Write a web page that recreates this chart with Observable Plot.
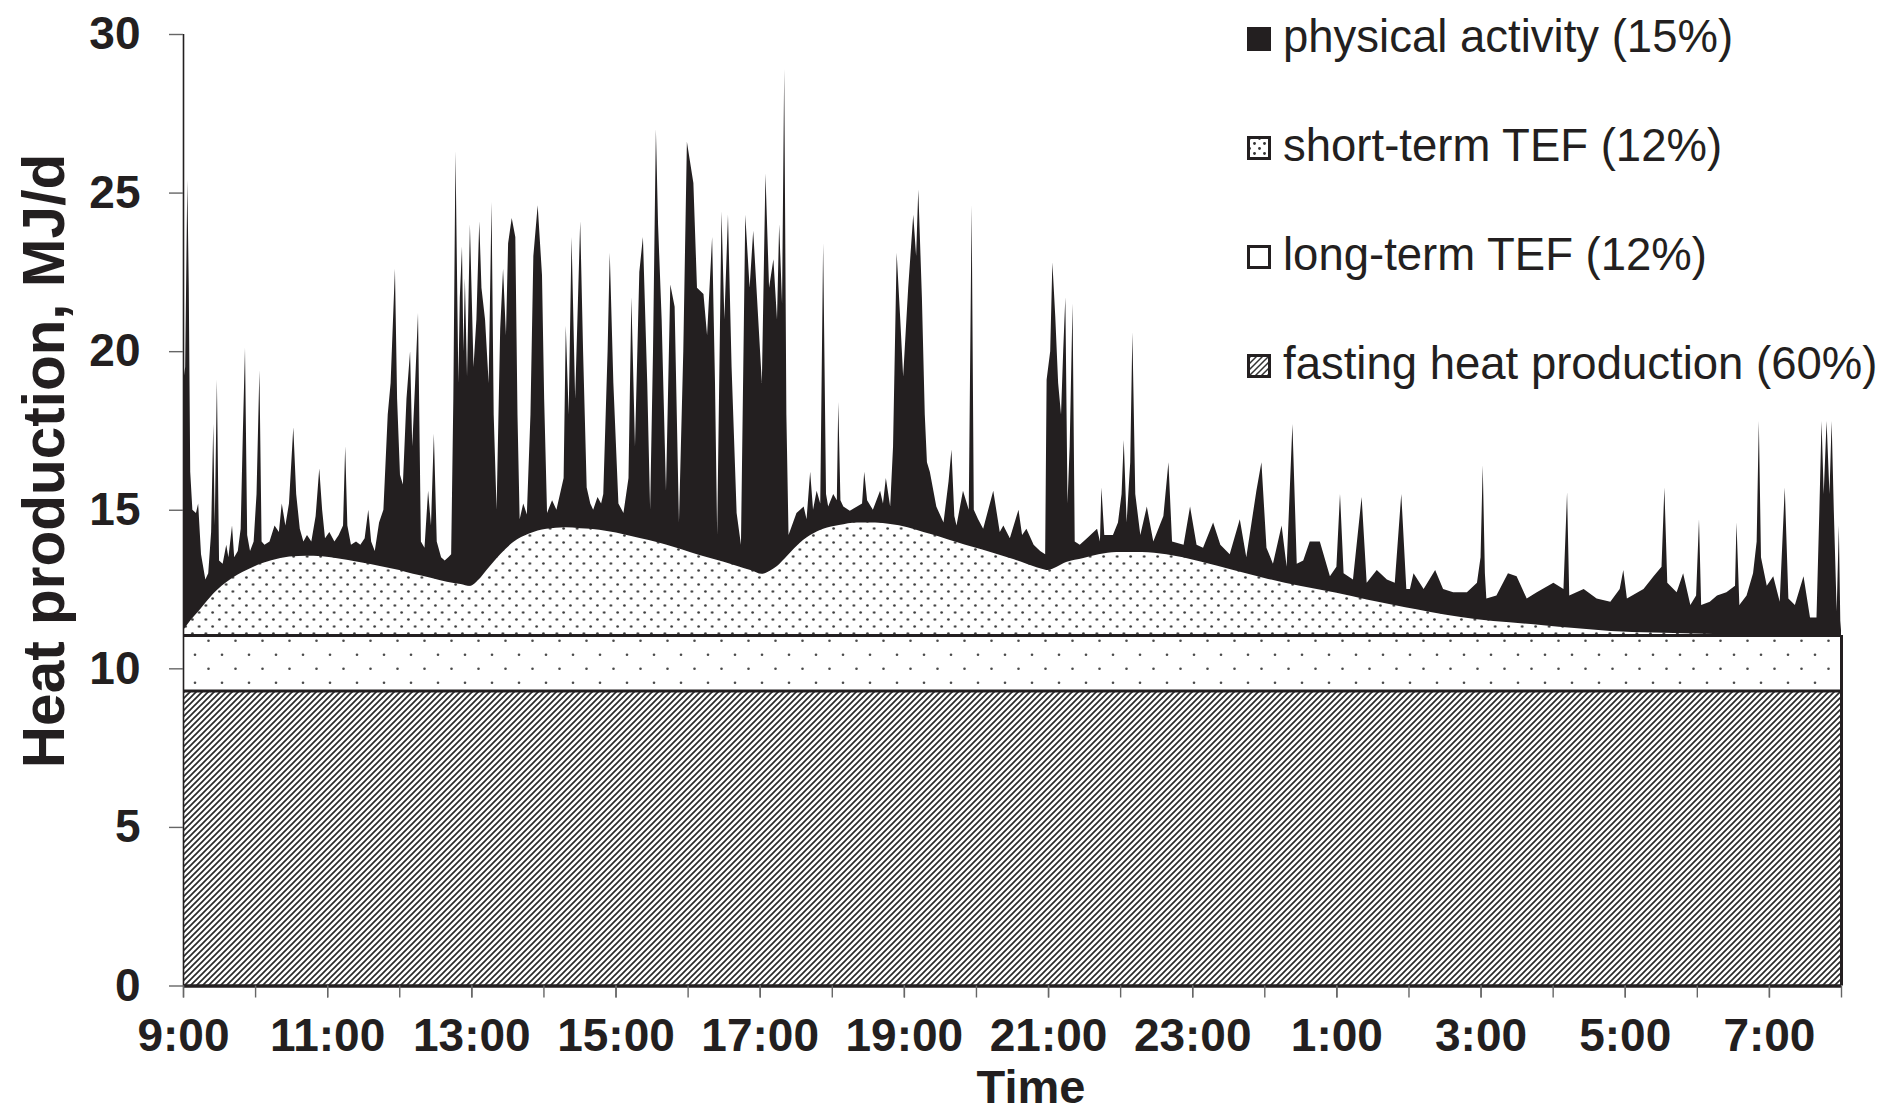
<!DOCTYPE html>
<html>
<head>
<meta charset="utf-8">
<script src="https://cdn.jsdelivr.net/npm/d3@7"></script>
<script src="https://cdn.jsdelivr.net/npm/@observablehq/plot@0.6"></script>
<style>
  body { margin: 0; background: #fff; }
  #wrap { position: relative; width: 1889px; height: 1114px; font-family: "Liberation Sans", Arial, sans-serif; color: #231f20; overflow: hidden; }
  #wrap svg.chart { position: absolute; left: 0; top: 0; }
  .ytitle { position: absolute; left: 44px; top: 461px; transform: translate(-50%, -50%) rotate(-90deg); font-weight: bold; font-size: 58.5px; line-height: 1; white-space: nowrap; }
  .xtitle { position: absolute; left: 1031px; top: 1063px; transform: translateX(-50%); font-weight: bold; font-size: 47px; line-height: 1; white-space: nowrap; }
  .leg-text { position: absolute; left: 1283px; font-size: 45.5px; line-height: 1; white-space: nowrap; }
  .leg-sw { position: absolute; left: 1247px; width: 24px; height: 24px; }
</style>
</head>
<body>
<div id="wrap"></div>
<script>
// ---------------- data (hours after 9:00, MJ/d) ----------------
const fastingLevel = 9.3;     // top of fasting heat production
const longTermLevel = 11.05;  // top of long-term TEF band

// short-term TEF upper boundary (cumulative value)
const stefHours  = [0, 0.05, 0.25, 0.42, 0.65, 0.88, 1.1, 1.35, 1.6, 1.81, 2.05, 2.27, 2.5, 2.73, 3.0, 3.19, 3.45, 3.66, 3.85, 3.98, 4.1, 4.21, 4.4, 4.58, 4.8, 5.04, 5.3, 5.51, 5.65, 5.9, 6.11, 6.35, 6.57, 6.8, 7.03, 7.25, 7.5, 7.7, 7.87, 8.03, 8.14, 8.24, 8.38, 8.51, 8.7, 8.88, 9.1, 9.35, 9.6, 9.81, 10.05, 10.27, 10.5, 10.73, 10.95, 11.2, 11.47, 11.7, 11.9, 12.0, 12.12, 12.25, 12.49, 12.7, 12.95, 13.3, 13.64, 14.1, 14.57, 15.0, 15.49, 16.0, 16.42, 16.8, 17.11, 17.5, 17.95, 18.4, 18.87, 19.3, 19.8, 20.4, 20.95, 21.5, 22, 23];
const stefValues = [11.2, 11.36, 11.9, 12.36, 12.8, 13.1, 13.32, 13.48, 13.54, 13.55, 13.5, 13.42, 13.33, 13.23, 13.1, 12.98, 12.85, 12.73, 12.66, 12.6, 12.8, 13.1, 13.6, 13.98, 14.25, 14.4, 14.45, 14.42, 14.4, 14.32, 14.23, 14.1, 13.98, 13.83, 13.67, 13.52, 13.36, 13.22, 13.1, 12.98, 13.08, 13.23, 13.55, 13.86, 14.2, 14.4, 14.52, 14.6, 14.6, 14.55, 14.45, 14.3, 14.15, 13.98, 13.83, 13.67, 13.48, 13.3, 13.15, 13.1, 13.2, 13.35, 13.48, 13.6, 13.67, 13.67, 13.6, 13.38, 13.1, 12.85, 12.6, 12.38, 12.17, 12.0, 11.86, 11.7, 11.55, 11.45, 11.36, 11.27, 11.18, 11.13, 11.1, 11.07, 11.06, 11.05];

// total heat production incl. physical activity: [hour, MJ/d]
const activityTrace = [
  [0.00,19.0],[0.03,19.5],[0.06,25.4],[0.08,22.0],[0.10,16.2],[0.13,15.0],[0.18,14.9],[0.21,15.2],[0.25,13.6],[0.31,12.8],
  [0.35,13.0],[0.39,14.3],[0.42,17.7],[0.44,14.5],[0.47,19.1],[0.50,13.4],[0.55,13.3],[0.60,13.9],[0.63,13.5],[0.68,14.5],
  [0.71,13.5],[0.76,13.7],[0.80,14.4],[0.83,17.4],[0.86,20.1],[0.89,14.2],[0.93,13.7],[0.98,14.0],[1.02,15.5],[1.06,19.4],
  [1.09,14.0],[1.13,13.9],[1.20,14.0],[1.27,14.5],[1.33,14.3],[1.37,15.2],[1.42,14.5],[1.47,15.2],[1.53,17.6],[1.57,15.5],
  [1.62,14.4],[1.67,14.0],[1.72,14.2],[1.78,14.0],[1.84,14.8],[1.89,16.3],[1.93,15.0],[1.97,14.1],[2.03,14.3],[2.10,14.0],
  [2.16,14.2],[2.22,14.5],[2.25,17.0],[2.28,14.5],[2.33,13.9],[2.40,14.0],[2.46,13.9],[2.52,14.1],[2.57,15.0],[2.61,14.0],
  [2.66,13.7],[2.72,14.6],[2.78,15.0],[2.84,18.0],[2.88,19.0],[2.94,22.6],[2.97,18.5],[3.01,16.1],[3.05,15.8],[3.10,18.5],
  [3.15,20.0],[3.18,17.0],[3.22,19.0],[3.26,21.2],[3.30,14.0],[3.35,13.8],[3.40,15.6],[3.44,14.5],[3.48,17.4],[3.52,14.0],
  [3.58,13.5],[3.63,13.4],[3.68,13.5],[3.72,13.6],
  [3.75,18.5],[3.78,26.3],[3.82,19.0],[3.84,21.7],[3.87,23.3],[3.89,20.0],[3.91,22.3],[3.94,19.2],[3.98,24.0],[4.03,19.5],
  [4.07,21.0],[4.11,24.1],[4.14,22.0],[4.19,21.0],[4.24,19.0],[4.28,24.7],[4.31,18.0],[4.35,15.0],[4.40,20.7],[4.44,22.6],
  [4.48,20.5],[4.51,23.4],[4.56,24.2],[4.61,23.6],[4.64,18.0],[4.67,14.7],[4.72,15.2],[4.77,14.85],[4.82,18.0],[4.86,23.0],
  [4.92,24.6],[4.98,22.4],[5.01,18.5],[5.05,14.9],[5.12,15.3],[5.18,15.0],[5.24,15.6],[5.28,16.0],[5.31,20.8],[5.35,18.0],
  [5.39,23.6],[5.44,18.5],[5.51,24.1],[5.55,20.0],[5.60,15.7],[5.65,15.2],[5.69,15.0],[5.75,15.4],[5.80,15.2],[5.83,15.5],
  [5.89,20.0],[5.92,23.1],[5.97,19.0],[6.04,15.2],[6.11,14.9],[6.18,16.0],[6.22,21.7],[6.27,17.0],[6.33,22.5],[6.38,23.6],
  [6.44,19.0],[6.48,15.0],[6.52,20.0],[6.56,27.0],[6.59,24.0],[6.64,21.0],[6.70,15.6],[6.76,22.1],[6.82,21.4],[6.88,14.6],
  [6.94,20.0],[6.99,26.6],[7.08,25.3],[7.13,22.0],[7.22,21.8],[7.27,20.5],[7.34,23.6],[7.38,19.0],[7.41,14.2],[7.47,24.4],
  [7.51,21.0],[7.56,24.3],[7.61,19.5],[7.68,14.9],[7.74,13.9],[7.80,24.3],[7.86,22.0],[7.91,23.8],[7.98,21.0],[8.03,19.0],
  [8.08,25.6],[8.13,22.0],[8.19,22.9],[8.24,21.0],[8.27,24.0],[8.31,21.5],[8.34,28.9],[8.37,18.0],[8.40,14.2],
  [8.51,14.9],[8.61,15.1],[8.65,14.7],[8.70,16.2],[8.74,15.0],[8.79,15.6],[8.84,15.2],[8.88,23.4],[8.92,15.5],[8.95,15.1],
  [9.02,15.5],[9.07,15.3],[9.09,18.4],[9.12,15.3],[9.16,15.1],[9.25,14.97],[9.35,15.1],[9.42,15.2],[9.45,16.2],[9.49,15.3],
  [9.57,15.0],[9.67,15.6],[9.71,15.2],[9.75,16.0],[9.81,15.1],[9.85,17.0],[9.90,23.1],[9.95,21.0],[9.99,19.2],[10.06,22.0],
  [10.13,24.3],[10.17,23.0],[10.20,25.1],[10.25,21.7],[10.29,18.0],[10.32,16.5],[10.36,16.2],[10.45,15.1],[10.55,14.6],[10.62,15.9],
  [10.66,16.9],[10.70,14.8],[10.73,14.5],[10.82,15.6],[10.90,15.0],[10.94,24.6],[10.97,15.0],[11.03,14.7],[11.10,14.4],[11.24,15.6],
  [11.33,14.3],[11.38,14.5],[11.47,14.1],[11.59,15.0],[11.64,14.2],[11.70,14.4],[11.80,13.9],[11.89,13.7],[11.96,13.6],[11.98,19.1],
  [12.03,20.0],[12.06,22.8],[12.10,21.1],[12.14,19.0],[12.18,18.0],[12.21,20.0],[12.24,21.7],[12.27,15.2],[12.30,17.0],[12.34,21.5],
  [12.37,14.0],[12.44,13.9],[12.54,14.1],[12.68,14.4],[12.72,14.0],[12.74,15.7],[12.78,14.2],[12.90,14.2],[12.97,14.6],[13.02,15.5],
  [13.05,17.2],[13.09,14.6],[13.14,16.5],[13.17,20.6],[13.21,15.5],[13.28,14.2],[13.37,15.1],[13.46,14.0],[13.60,14.8],[13.67,16.5],
  [13.72,14.0],[13.88,13.9],[13.97,15.1],[14.06,13.9],[14.15,13.8],[14.29,14.6],[14.39,13.9],[14.52,13.6],[14.66,14.7],[14.75,13.5],
  [14.89,15.6],[14.96,16.5],[15.03,13.8],[15.12,13.3],[15.24,14.5],[15.31,13.2],[15.39,17.7],[15.45,13.3],[15.54,13.4],[15.63,14.0],
  [15.77,14.0],[15.91,12.9],[16.00,13.2],[16.05,15.5],[16.10,13.0],[16.23,12.8],[16.35,15.4],[16.42,12.7],[16.56,13.1],[16.70,12.8],
  [16.81,12.7],[16.90,15.5],[16.97,12.5],[17.02,12.5],[17.07,13.0],[17.21,12.5],[17.37,13.1],[17.48,12.5],[17.62,12.4],[17.81,12.4],
  [17.95,12.7],[18.00,13.5],[18.03,16.4],[18.06,13.0],[18.08,12.2],[18.22,12.3],[18.38,13.0],[18.50,12.9],[18.64,12.2],[18.78,12.4],
  [19.01,12.7],[19.15,12.5],[19.20,15.55],[19.23,12.3],[19.43,12.5],[19.61,12.2],[19.80,12.1],[19.93,12.5],[19.98,13.1],[20.03,12.2],
  [20.26,12.5],[20.40,12.9],[20.51,13.2],[20.55,15.7],[20.59,12.7],[20.72,12.4],[20.81,13.0],[20.91,12.0],[20.99,12.3],[21.03,14.7],
  [21.06,12.0],[21.18,12.1],[21.28,12.3],[21.41,12.4],[21.53,12.6],[21.55,14.6],[21.59,12.0],[21.69,12.3],[21.78,13.0],[21.83,14.0],
  [21.86,17.8],[21.89,13.5],[21.97,12.6],[22.06,12.9],[22.15,12.1],[22.22,15.7],[22.27,12.2],[22.36,12.0],[22.48,12.9],[22.57,11.6],
  [22.66,11.6],[22.70,15.0],[22.73,17.8],[22.76,15.5],[22.80,17.8],[22.84,15.5],[22.87,17.8],[22.90,15.0],[22.94,11.8],[22.97,14.5],
  [22.99,11.5],[23.00,11.2]
];

// axes
const yTicks = [0, 5, 10, 15, 20, 25, 30];
const hourTicks = [0,1,2,3,4,5,6,7,8,9,10,11,12,13,14,15,16,17,18,19,20,21,22,23];
const labelHours = [0, 2, 4, 6, 8, 10, 12, 14, 16, 18, 20, 22];
const timeLabels = ["9:00","11:00","13:00","15:00","17:00","19:00","21:00","23:00","1:00","3:00","5:00","7:00"];
const xTitle = "Time";
const yTitle = "Heat production, MJ/d";

// legend
const legendLabels = ["physical activity (15%)", "short-term TEF (12%)", "long-term TEF (12%)", "fasting heat production (60%)"];
const legendFills = ["#231f20", "url(#swStef)", "#ffffff", "url(#swHatch)"];

// ---------------- build ----------------
const ink = "#231f20";
const stef = stefHours.map((t, i) => ({t, v: stefValues[i]}));
const total = activityTrace.map(([t, v]) => ({t, v}));
const span = [{t: 0}, {t: 23}];

const chart = Plot.plot({
  width: 1889,
  height: 1114,
  marginTop: 34,
  marginLeft: 183,
  marginRight: 48,
  marginBottom: 128.5,
  style: {fontFamily: '"Liberation Sans", Arial, sans-serif', fontSize: "46px", fontWeight: "bold", color: ink, background: "transparent", overflow: "visible"},
  x: {domain: [0, 23]},
  y: {domain: [0, 30]},
  marks: [
    Plot.areaY(total, {x: "t", y1: longTermLevel, y2: "v", fill: ink}),
    Plot.areaY(stef, {x: "t", y1: longTermLevel, y2: "v", fill: "url(#stefDots)", curve: "monotone-x"}),
    Plot.areaY(span, {x: "t", y1: fastingLevel, y2: longTermLevel, fill: "url(#ltDots)"}),
    Plot.areaY(span, {x: "t", y1: 0, y2: fastingLevel, fill: "url(#hatch)"}),
    Plot.ruleY([fastingLevel, longTermLevel], {stroke: ink, strokeWidth: 3}),
    Plot.ruleX([23], {y1: 0, y2: longTermLevel, stroke: ink, strokeWidth: 3}),
    Plot.ruleX([0], {y1: 0, y2: 30, stroke: ink, strokeWidth: 1.6}),
    Plot.ruleY([0], {stroke: ink, strokeWidth: 3.5}),
    Plot.axisY({ticks: yTicks, tickSize: 14, tickPadding: 29, label: null, stroke: "#666", strokeWidth: 1.4, fill: ink}),
    Plot.axisX({ticks: hourTicks, tickSize: 12, tickFormat: () => "", label: null, stroke: "#666", strokeWidth: 1.4}),
    Plot.axisX({ticks: labelHours, tickSize: 12, tickPadding: 20, tickFormat: d => timeLabels[labelHours.indexOf(d)], label: null, stroke: "#666", strokeWidth: 1.4, fill: ink})
  ]
});
chart.classList.add("chart");

// patterns
const defs = d3.select(chart).insert("defs", ":first-child");
const pStef = defs.append("pattern").attr("id", "stefDots").attr("patternUnits", "userSpaceOnUse")
  .attr("width", 13.5).attr("height", 14);
pStef.append("rect").attr("width", 13.5).attr("height", 14).attr("fill", "#fff");
pStef.append("circle").attr("cx", 3.4).attr("cy", 3.5).attr("r", 1.35).attr("fill", "#3a3a3a");
pStef.append("circle").attr("cx", 10.15).attr("cy", 10.5).attr("r", 1.35).attr("fill", "#3a3a3a");

const pLt = defs.append("pattern").attr("id", "ltDots").attr("patternUnits", "userSpaceOnUse")
  .attr("width", 27).attr("height", 28);
pLt.append("rect").attr("width", 27).attr("height", 28).attr("fill", "#fff");
pLt.append("circle").attr("cx", 6).attr("cy", 10.7).attr("r", 1.3).attr("fill", "#4a4a4a");
pLt.append("circle").attr("cx", 19.5).attr("cy", 24.7).attr("r", 1.3).attr("fill", "#4a4a4a");

const pH = defs.append("pattern").attr("id", "hatch").attr("patternUnits", "userSpaceOnUse")
  .attr("width", 6).attr("height", 6);
pH.append("rect").attr("width", 6).attr("height", 6).attr("fill", "#fff");
pH.append("path").attr("d", "M0,6L6,0M-1.5,1.5L1.5,-1.5M4.5,7.5L7.5,4.5")
  .attr("stroke", "#2a2a2a").attr("stroke-width", 1.7);

const wrap = document.getElementById("wrap");
wrap.appendChild(chart);

// axis titles
const yt = document.createElement("div"); yt.className = "ytitle"; yt.textContent = yTitle; wrap.appendChild(yt);
const xt = document.createElement("div"); xt.className = "xtitle"; xt.textContent = xTitle; wrap.appendChild(xt);

// legend
const baselines = [52, 161, 270, 379];
legendLabels.forEach((label, i) => {
  const cy = baselines[i] - 13;
  const sw = document.createElementNS("http://www.w3.org/2000/svg", "svg");
  sw.setAttribute("class", "leg-sw");
  sw.setAttribute("width", 24); sw.setAttribute("height", 24);
  sw.style.top = (cy - 12) + "px";
  const s = d3.select(sw);
  const d = s.append("defs");
  if (i === 1) {
    const p = d.append("pattern").attr("id", "swStef").attr("patternUnits", "userSpaceOnUse").attr("width", 10).attr("height", 10);
    p.append("rect").attr("width", 10).attr("height", 10).attr("fill", "#fff");
    p.append("circle").attr("cx", 2.5).attr("cy", 2.5).attr("r", 1.4).attr("fill", "#333");
    p.append("circle").attr("cx", 7.5).attr("cy", 7.5).attr("r", 1.4).attr("fill", "#333");
  }
  if (i === 3) {
    const p = d.append("pattern").attr("id", "swHatch").attr("patternUnits", "userSpaceOnUse").attr("width", 6).attr("height", 6);
    p.append("rect").attr("width", 6).attr("height", 6).attr("fill", "#fff");
    p.append("path").attr("d", "M0,6L6,0M-1.5,1.5L1.5,-1.5M4.5,7.5L7.5,4.5").attr("stroke", "#333").attr("stroke-width", 1.5);
  }
  s.append("rect").attr("x", 1.5).attr("y", 1.5).attr("width", 21).attr("height", 21)
    .attr("fill", legendFills[i]).attr("stroke", ink).attr("stroke-width", 3);
  wrap.appendChild(sw);
  const tx = document.createElement("div");
  tx.className = "leg-text";
  tx.textContent = label;
  tx.style.top = (baselines[i] - 38.5) + "px";
  wrap.appendChild(tx);
});
</script>
</body>
</html>
